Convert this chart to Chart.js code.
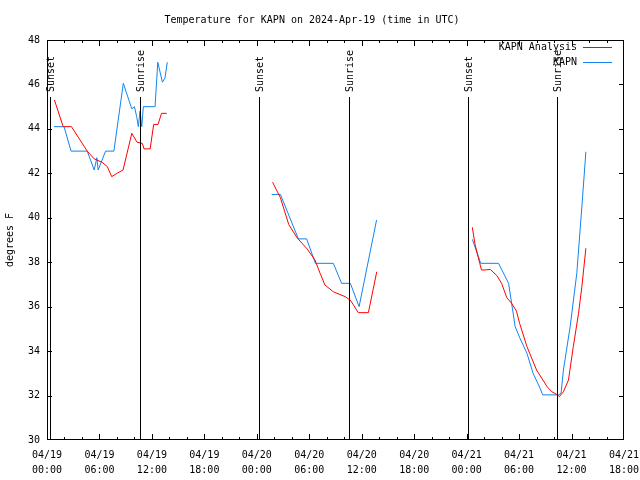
<!DOCTYPE html>
<html><head><meta charset="utf-8">
<script src="https://cdn.jsdelivr.net/npm/chart.js@4/dist/chart.umd.min.js"></script>
<style>html,body{margin:0;padding:0;background:#fff;}</style>
</head><body>
<canvas id="c" width="640" height="480"></canvas>
<script>
const titleText = 'Temperature for KAPN on 2024-Apr-19 (time in UTC)';
const yTitle = 'degrees F';
const tickHours = [0, 6, 12, 18, 24, 30, 36, 42, 48, 54, 60, 66];
const tickDays = ['04/19', '04/19', '04/19', '04/19', '04/20', '04/20', '04/20', '04/20', '04/21', '04/21', '04/21', '04/21'];
const tickTimes = ['00:00', '06:00', '12:00', '18:00', '00:00', '06:00', '12:00', '18:00', '00:00', '06:00', '12:00', '18:00'];

// hours since 04/19 00:00 UTC; null temperature = gap
const analysisHours = [0.85,1.85,2.8,4.6,5.4,6.3,6.9,7.4,8.0,8.7,9.7,10.3,10.9,11.1,11.8,12.2,12.7,13.1,13.7,
  20,
  25.8,26.7,27.65,28.6,29.75,30.65,31.24,31.8,32.76,34.1,34.67,35.05,35.6,36.76,37.72,
  44,
  48.65,48.97,49.5,49.7,50.1,50.7,51.45,52.0,52.6,53.15,53.7,54.06,54.9,56.0,57.2,57.75,58.4,58.6,59.07,59.65,60.2,60.8,61.18,61.64];
const analysisTemps = [45.3,44.1,44.1,43.0,42.65,42.5,42.3,41.85,42.0,42.15,43.8,43.4,43.35,43.1,43.1,44.2,44.2,44.7,44.7,
  null,
  41.6,40.9,39.7,39.1,38.6,38.1,37.5,36.97,36.67,36.45,36.3,36.08,35.73,35.73,37.57,
  null,
  39.57,38.78,37.95,37.65,37.65,37.68,37.4,37.05,36.4,36.15,35.8,35.25,34.2,33.15,32.4,32.17,32.03,31.95,32.17,32.7,34.2,35.7,36.9,38.63];

const obsHours = [0.8,1.95,2.75,4.6,5.4,5.7,5.85,6.7,7.65,8.73,9.7,10.0,10.26,10.45,10.64,10.84,11.02,12.36,12.67,13.2,13.5,13.76,
  20,
  25.7,26.7,28.75,29.7,30.7,32.75,33.7,34.7,35.7,37.7,
  44,
  48.65,49.35,49.6,51.65,52.8,53.55,54.1,54.9,55.6,56.4,56.7,58.5,58.8,59.07,59.84,60.6,61.18,61.64];
const obsTemps = [44.1,44.1,43.0,43.0,42.15,42.7,42.15,43.0,43.0,46.05,44.9,45.0,44.55,44.1,44.8,44.1,45.0,45.0,47.0,46.1,46.3,47.0,
  null,
  41.05,41.05,39.05,39.05,37.95,37.95,37.05,37.05,36.0,39.9,
  null,
  39.03,38.25,37.95,37.95,37.05,35.1,34.58,33.9,33.0,32.33,32.03,32.03,32.1,33.15,35.1,37.5,40.5,42.97];

const sunLabels = ['Sunset', 'Sunrise', 'Sunset', 'Sunrise', 'Sunset', 'Sunrise'];
const sunHours = [0.3, 10.6, 24.3, 34.55, 48.1, 58.35];

const MONO = '"DejaVu Sans Mono", "Liberation Mono", monospace';

function toPoints(hs, ts) { return hs.map((h, i) => ({ x: h, y: ts[i] })); }

const overlay = {
  id: 'overlay',
  afterDatasetsDraw(chart) {
    const { ctx, chartArea: a, scales: { x, y } } = chart;
    ctx.save();
    ctx.strokeStyle = '#000';
    ctx.fillStyle = '#000';
    ctx.font = '10px ' + MONO;
    // sunrise / sunset markers
    sunHours.forEach((h, i) => {
      const px = Math.round(x.getPixelForValue(h)) + 0.5;
      ctx.lineWidth = 1;
      ctx.beginPath();
      ctx.moveTo(px, a.top + 57);
      ctx.lineTo(px, a.bottom);
      ctx.stroke();
      ctx.save();
      ctx.translate(px + 1, a.top + 52);
      ctx.rotate(-Math.PI / 2);
      ctx.textAlign = 'left';
      ctx.textBaseline = 'middle';
      ctx.fillText(sunLabels[i], 0, 0);
      ctx.restore();
    });
    // frame
    ctx.lineWidth = 1;
    ctx.strokeRect(a.left + 0.5, a.top + 0.5, a.width - 1, a.height - 1);
    // tick marks (inward, mirrored)
    ctx.beginPath();
    for (let h = 2; h < 66; h += 2) {
      const px = Math.round(x.getPixelForValue(h)) + 0.5;
      const len = (h % 6 === 0) ? 6 : 3;
      ctx.moveTo(px, a.bottom); ctx.lineTo(px, a.bottom - len);
      ctx.moveTo(px, a.top); ctx.lineTo(px, a.top + len);
    }
    for (let v = 32; v < 48; v += 2) {
      const py = Math.round(y.getPixelForValue(v)) + 0.5;
      ctx.moveTo(a.left, py); ctx.lineTo(a.left + 5, py);
      ctx.moveTo(a.right, py); ctx.lineTo(a.right - 5, py);
    }
    ctx.stroke();
    // legend
    ctx.textAlign = 'right';
    ctx.textBaseline = 'middle';
    chart.data.datasets.forEach((ds, i) => {
      const ly = a.top + 7 + i * 15;
      ctx.fillStyle = '#000';
      ctx.fillText(ds.label, a.right - 47, ly);
      ctx.strokeStyle = ds.borderColor;
      ctx.lineWidth = 1;
      ctx.beginPath();
      ctx.moveTo(a.right - 41, Math.round(ly) + 0.5);
      ctx.lineTo(a.right - 12, Math.round(ly) + 0.5);
      ctx.stroke();
    });
    ctx.restore();
  }
};

new Chart(document.getElementById('c'), {
  type: 'line',
  data: {
    datasets: [
      { label: 'KAPN Analysis', data: toPoints(analysisHours, analysisTemps), borderColor: '#ff0000', borderWidth: 1, pointRadius: 0, spanGaps: false, tension: 0 },
      { label: 'KAPN', data: toPoints(obsHours, obsTemps), borderColor: '#1084f0', borderWidth: 1, pointRadius: 0, spanGaps: false, tension: 0 }
    ]
  },
  options: {
    responsive: false,
    animation: false,
    devicePixelRatio: 1,
    layout: { padding: { left: 0, right: 16, top: 0, bottom: 0 } },
    plugins: {
      legend: { display: false },
      tooltip: { enabled: false },
      title: {
        display: true, text: titleText, color: '#000',
        font: { family: MONO, size: 10, weight: 'normal' },
        padding: { top: 14, bottom: 14 }
      }
    },
    scales: {
      x: {
        type: 'linear', min: 0, max: 66,
        afterBuildTicks: s => { s.ticks = tickHours.map(v => ({ value: v })); },
        afterFit: s => { s.height = 40; s.paddingLeft = 0; s.paddingRight = 0; },
        ticks: {
          autoSkip: false, maxRotation: 0, minRotation: 0, padding: 8, color: '#000',
          font: { family: MONO, size: 10, lineHeight: 1.5 },
          callback: (v) => [tickDays[tickHours.indexOf(v)], tickTimes[tickHours.indexOf(v)]]
        },
        grid: { display: false, drawTicks: false },
        border: { display: false }
      },
      y: {
        min: 30, max: 48,
        afterFit: s => { s.width = 47; s.paddingTop = 0; s.paddingBottom = 0; },
        ticks: { stepSize: 2, padding: 7, color: '#000', font: { family: MONO, size: 10 } },
        grid: { display: false, drawTicks: false },
        border: { display: false },
        title: { display: true, text: yTitle, color: '#000', font: { family: MONO, size: 10 }, padding: { top: 4, bottom: 4 } }
      }
    }
  },
  plugins: [overlay]
});
</script>
</body></html>
